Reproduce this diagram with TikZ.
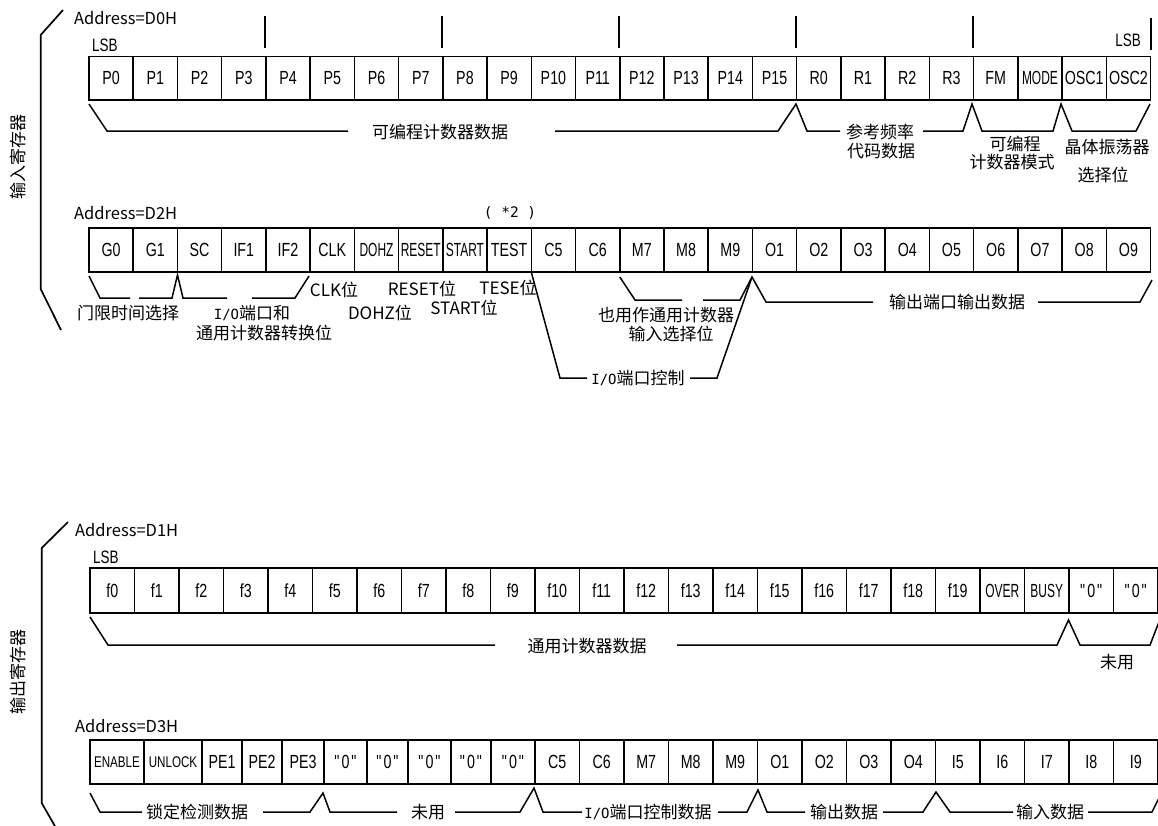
\documentclass[tikz,border=0pt]{standalone}
\usepackage{fontspec}
\usepackage{tikz}
\usetikzlibrary{positioning}
\setmainfont{Liberation Sans}
\newfontfamily\cjk{Noto Sans CJK SC}
\newfontfamily\mono{DejaVu Sans Mono}
\newfontfamily\cellf[FakeStretch=0.75]{Liberation Sans}
\newfontfamily\cellq[FakeStretch=0.63]{Liberation Sans}
\newfontfamily\cellw[FakeStretch=0.75]{Liberation Sans}
\newcommand{\smallcell}{\cellw\fontsize{15.5}{18}\selectfont}
\newcommand{\nullbit}{{\fontsize{19}{22}\selectfont"\kern2pt0\kern2pt"}}
\newcommand{\iotxt}{{\mono\fontsize{14}{17}\selectfont I/O}}
\tikzstyle{cell}  = [draw, line width=1.6pt, inner sep=0pt, font=\cellf\fontsize{19}{22}\selectfont]
\tikzstyle{cellA} = [cell, minimum width=44.23pt, minimum height=43.5pt]
\tikzstyle{cellB} = [cell, minimum width=44.5pt, minimum height=44.5pt]
\tikzstyle{tag}   = [inner sep=0pt, anchor=west, font=\cellf\fontsize{18}{20}\selectfont]
\tikzstyle{note}  = [inner sep=0pt, font=\cjk\fontsize{17}{20}\selectfont]
\tikzstyle{addr}  = [note, anchor=west, font=\cjk\fontsize{16.5}{20}\selectfont]
\tikzstyle{brace} = [line width=1.5pt]
\tikzstyle{tick}  = [line width=1.7pt]
\begin{document}
\begin{tikzpicture}[x=1pt,y=-1pt]
    \useasboundingbox (0,0) rectangle (1158,825);

    % input registers
    \draw[tick] (63,10) -- (40.7,35) -- (40.7,289) -- (61,330);
    \node[note, rotate=90] (inreg) at (18,157) {输入寄存器};

    % D0H
    \node[addr] (adr0) at (74,18) {Address=D0H};
    \node[tag] (lsb0) at (92,45) {LSB};
    \node[tag, anchor=east] (lsb1) at (1141,40) {LSB};
    \foreach \i in {0,...,15}
        \node[cellA] (a\i) at ({89+44.23*(\i+0.5)},78.25) {P\i};
    \foreach \t [count=\i from 16] in {R0,R1,R2,R3,FM,{\cellq MODE},OSC1,OSC2}
        \node[cellA] (a\i) at ({89+44.23*(\i+0.5)},78.25) {\t};
    \foreach \i in {4,8,12,16,20}
        \draw[tick] (a\i.north west) ++(0,-8) -- ++(0,-32);
    \draw[tick] (a23.north east) ++(0,-6) -- ++(0,-32);

    \draw[brace] (89,104) -- (107,131) -- (348,131);
    \draw[brace] (555,131) -- (778,131) -- (796,104) -- (807,131) -- (840,131);
    \draw[brace] (923,131) -- (963,131) -- (972,104) -- (982,131) -- (1053,131)
        -- (1061,104) -- (1072,131) -- (1136,131) -- (1150,104);
    \node[note] (pdata) at (440,132) {可编程计数器数据};
    \node[note] (rdata) at (880,132) {参考频率};
    \node[note] (rcode) at (881,151) {代码数据};
    \node[note] (pmode) at (1015,144) {可编程};
    \node[note] (cmode) at (1012,162) {计数器模式};
    \node[note] (osc) at (1107,147) {晶体振荡器};
    \node[note] (oscsel) at (1103,175) {选择位};

    % D2H
    \node[addr] (adr2) at (74,213) {Address=D2H};
    \node[note, font=\mono\fontsize{14.5}{17}\selectfont] (star) at (510,213) {( *2 )};
    \foreach \t [count=\i from 0] in {G0,G1,SC,IF1,IF2,CLK,{\cellq DOHZ},{\cellq RESET},{\cellq START},TEST,C5,C6,M7,M8,M9,O1,O2,O3,O4,O5,O6,O7,O8,O9}
        \node[cellA, minimum height=44pt] (b\i) at ({89+44.23*(\i+0.5)},250) {\t};

    \draw[brace] (89,276) -- (100,298) -- (130,298);
    \draw[brace] (139,298) -- (172,298) -- (177.5,275) -- (183,298) -- (227,298);
    \draw[brace] (252,298) -- (295,298) -- (309,276);
    \draw[brace] (531.5,273) -- (560,378) -- (587,378);
    \draw[brace] (690,378) -- (717,378) -- (752,277);
    \draw[brace] (619.8,277) -- (635,300) -- (682,300);
    \draw[brace] (703,300) -- (740,300) -- (752,277) -- (766,302) -- (873,302);
    \draw[brace] (1038,302) -- (1140,302) -- (1152,280);
    \node[note] (gate) at (128,313) {门限时间选择};
    \node[note] (iosw) at (252,313) {\iotxt 端口和};
    \node[note] (iosw2) at (264,333) {通用计数器转换位};
    \node[note] (clk) at (334,290) {CLK位};
    \node[note] (dohz) at (380,313) {DOHZ位};
    \node[note] (reset) at (422,289) {RESET位};
    \node[note] (start) at (464,308) {START位};
    \node[note] (tese) at (508,288) {TESE位};
    \node[note] (ioctl) at (638,378) {\iotxt 端口控制};
    \node[note] (msel) at (666,315) {也用作通用计数器};
    \node[note] (msel2) at (671,334) {输入选择位};
    \node[note] (oport) at (957,302) {输出端口输出数据};

    % output registers
    \draw[tick] (68,522) -- (41.7,548) -- (41.7,803) -- (56,828);
    \node[note, rotate=90] (outreg) at (18,672) {输出寄存器};

    % D1H
    \node[addr] (adr1) at (75,530) {Address=D1H};
    \node[tag] (lsb2) at (93,557) {LSB};
    \foreach \i in {0,...,19}
        \node[cellB] (c\i) at ({90+44.5*(\i+0.5)},590.5) {f\i};
    \foreach \t [count=\i from 20] in {{\cellq OVER},{\cellq BUSY},\nullbit,\nullbit}
        \node[cellB] (c\i) at ({90+44.5*(\i+0.5)},590.5) {\t};

    \draw[brace] (90,617) -- (108,645) -- (495,645);
    \draw[brace] (677,645) -- (1057,645) -- (1068.5,620) -- (1080,645) -- (1150,645) -- (1162,614);
    \node[note] (fdata) at (587,646) {通用计数器数据};
    \node[note] (unused1) at (1117,662) {未用};

    % D3H
    \node[addr] (adr3) at (75,726) {Address=D3H};
    \foreach \t/\l/\r [count=\i from 0] in {{\smallcell ENABLE}/90/144,{\smallcell UNLOCK}/144/202,PE1/202/242,PE2/242/282,PE3/282/324,\nullbit/324/367,\nullbit/367/408,\nullbit/408/451,\nullbit/451/491,\nullbit/491/535}
        \node[cell, minimum width={(\r-\l)*1pt}, minimum height=44pt] (d\i) at ({(\l+\r)/2},762) {\t};
    \foreach \t [count=\i from 10] in {C5,C6,M7,M8,M9,O1,O2,O3,O4,I5,I6,I7,I8,I9}
        \node[cellB, minimum height=44pt] (d\i) at ({90+44.5*(\i+0.5)},762) {\t};

    \draw[brace] (90,793) -- (100,812) -- (142,812);
    \draw[brace] (263,812) -- (310,812) -- (323,793) -- (330,812) -- (397,812);
    \draw[brace] (455,812) -- (520,812) -- (534,788) -- (543,812) -- (582,812);
    \draw[brace] (718,812) -- (747,812) -- (758,790) -- (767,812) -- (805,812);
    \draw[brace] (883,812) -- (923,812) -- (936,792) -- (950,812) -- (1013,812);
    \draw[brace] (1088,812) -- (1152,812) -- (1162,792);
    \node[note] (lock) at (197,812) {锁定检测数据};
    \node[note] (unused2) at (428,812) {未用};
    \node[note] (ioctl2) at (648,812) {\iotxt 端口控制数据};
    \node[note] (odata) at (844,812) {输出数据};
    \node[note] (idata) at (1050,812) {输入数据};
\end{tikzpicture}
\end{document}
